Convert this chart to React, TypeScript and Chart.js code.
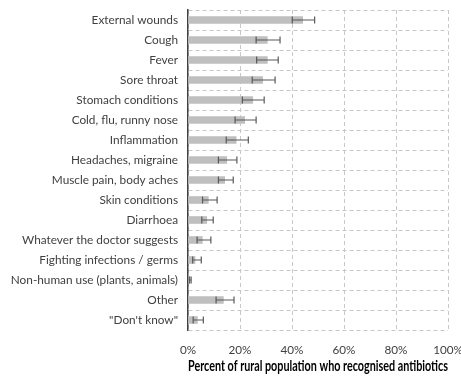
import React, { useEffect, useRef } from "react";
import { Chart, registerables } from "chart.js";

Chart.register(...registerables);

const categories = [
  "External wounds",
  "Cough",
  "Fever",
  "Sore throat",
  "Stomach conditions",
  "Cold, flu, runny nose",
  "Inflammation",
  "Headaches, migraine",
  "Muscle pain, body aches",
  "Skin conditions",
  "Diarrhoea",
  "Whatever the doctor suggests",
  "Fighting infections / germs",
  "Non-human use (plants, animals)",
  "Other",
  "\"Don't know\"",
];

const values = [44.1, 30.5, 30.5, 28.7, 24.9, 21.8, 18.5, 14.9, 14.1, 7.8, 7.2, 5.5, 2.7, 0.8, 13.6, 3.6];
const lowerBounds = [40.1, 26.2, 26.4, 24.7, 20.9, 18.1, 14.7, 11.7, 11.7, 5.6, 5.3, 3.5, 1.8, 0.5, 10.8, 2.0];
const upperBounds = [48.7, 35.4, 34.7, 33.5, 29.3, 26.2, 23.2, 18.8, 17.4, 11.2, 9.7, 8.8, 5.1, 1.2, 17.7, 5.9];

const xTicks = [0, 20, 40, 60, 80, 100];

const FONT = "Lato, 'Open Sans', sans-serif";

const errorBarPlugin = {
  id: "errorBars",
  afterDatasetsDraw(chart: any) {
    const ctx = chart.ctx;
    const xs = chart.scales.x;
    const meta = chart.getDatasetMeta(0);
    ctx.save();
    ctx.strokeStyle = "#595959";
    ctx.lineWidth = 1.2;
    meta.data.forEach((bar: any, i: number) => {
      const y = bar.y;
      const x1 = xs.getPixelForValue(lowerBounds[i]);
      const x2 = xs.getPixelForValue(upperBounds[i]);
      const cap = 3.5;
      ctx.beginPath();
      ctx.moveTo(x1, y);
      ctx.lineTo(x2, y);
      ctx.moveTo(x1, y - cap);
      ctx.lineTo(x1, y + cap);
      ctx.moveTo(x2, y - cap);
      ctx.lineTo(x2, y + cap);
      ctx.stroke();
    });
    ctx.restore();
  },
};

export default function App() {
  const ref = useRef<HTMLCanvasElement>(null);
  useEffect(() => {
    if (!ref.current) return;
    const chart = new Chart(ref.current, {
      type: "bar",
      data: {
        labels: categories,
        datasets: [
          {
            data: values,
            backgroundColor: "#bfbfbf",
            borderWidth: 0,
            barThickness: 7,
          },
        ],
      },
      options: {
        indexAxis: "y",
        animation: false,
        responsive: false,
        maintainAspectRatio: false,
        layout: { padding: { top: 10, right: 13, bottom: 1, left: 2 } },
        plugins: { legend: { display: false }, tooltip: { enabled: false } },
        scales: {
          x: {
            min: 0,
            max: 100,
            afterBuildTicks: (scale: any) => {
              scale.ticks = xTicks.map((v) => ({ value: v }));
            },
            ticks: {
              callback: (v: any) => v + "%",
              color: "#404040",
              font: { family: FONT, size: 11.7 },
              padding: 13,
              maxRotation: 0,
            },
            grid: { color: "#c8c8c8", drawTicks: false, lineWidth: 1 },
            border: { display: false, dash: [4, 3] },
            title: {
              display: true,
              text: "Percent of rural population who recognised antibiotics",
              color: "#000000",
              font: { family: FONT, size: 14.6, weight: "bold" },
              padding: { top: 1, bottom: 0 },
            },
            afterFit: (scale: any) => {
              scale.paddingLeft = 0;
              scale.paddingRight = 0;
              scale.height = 45;
            },
          },
          y: {
            ticks: {
              color: "#404040",
              font: { family: FONT, size: 11.8 },
              padding: 10,
              autoSkip: false,
            },
            grid: { color: "#c8c8c8", drawTicks: false, offset: true, lineWidth: 1 },
            border: { display: true, color: "#404040", width: 1.5, dash: [4, 3] },
            afterFit: (scale: any) => {
              scale.width = 186;
              scale.paddingTop = 0;
              scale.paddingBottom = 0;
            },
          },
        },
      },
      plugins: [errorBarPlugin],
    } as any);
    return () => chart.destroy();
  }, []);
  return (
    <div style={{ position: "fixed", left: 0, top: 0, width: 461, height: 376, background: "#fff" }}>
      <canvas ref={ref} width={461} height={376} style={{ width: 461, height: 376 }} />
    </div>
  );
}
